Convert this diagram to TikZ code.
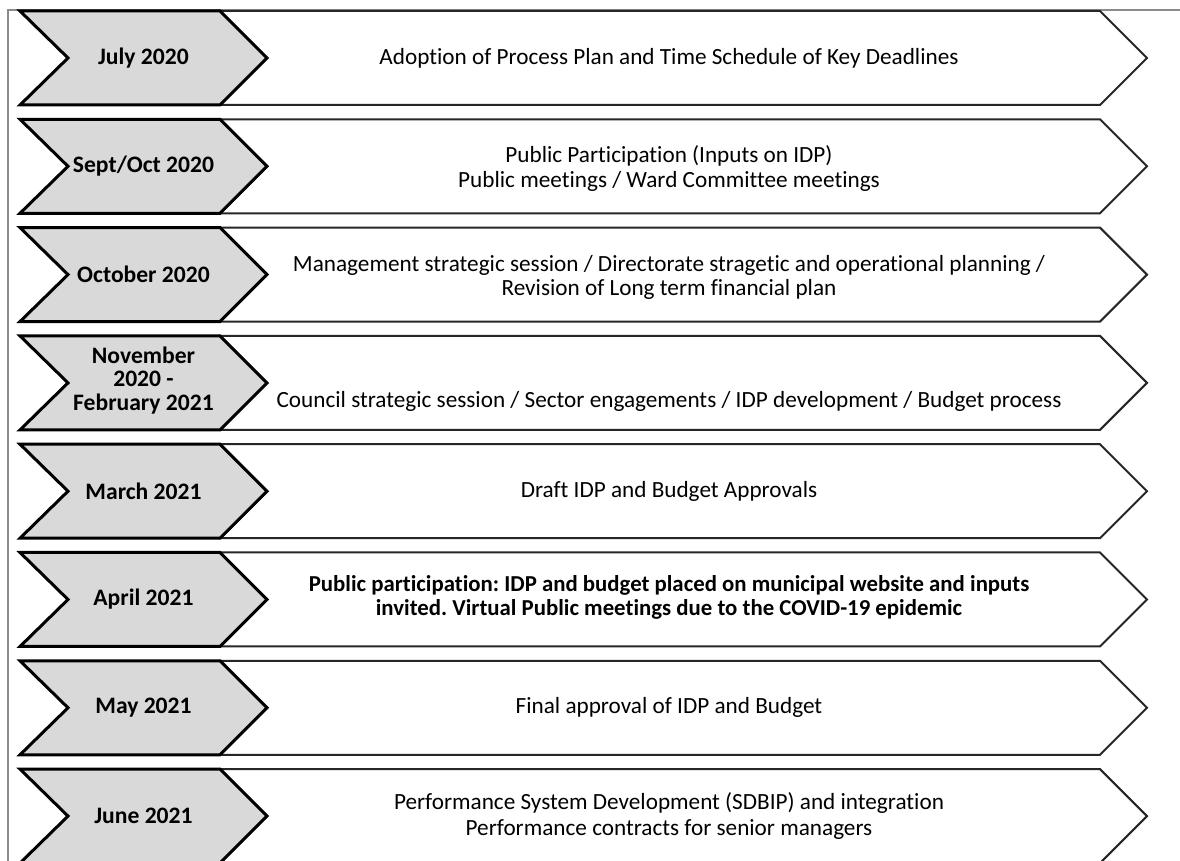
\documentclass[tikz,border=0pt]{standalone}
\usepackage{fontspec}
\setmainfont{Carlito}[Ligatures=NoCommon]
\usepackage{tikz}
\usetikzlibrary{positioning}
\definecolor{datefill}{HTML}{D9D9D9}
\definecolor{framegray}{HTML}{8C8C8C}
\frenchspacing

\begin{document}
\begin{tikzpicture}[x=0.5pt,y=-0.5pt,line join=miter,
  frame/.style={draw=framegray,line width=1pt},
  date box/.style={fill=datefill,draw=black,line width=1.5pt},
  task box/.style={fill=white,draw=black!85,line width=1pt},
  date/.style={font=\bfseries\fontsize{11.8}{11.75}\selectfont,align=center},
  task/.style={font=\fontsize{11.6}{11.8}\selectfont,align=center}]

  \useasboundingbox (0,0) rectangle (1180,861);
  \draw[frame] (8,861) -- (8,10) -- (1180,10);

  % chevrons, one row per period
  \foreach \t [count=\i] in {11,119.3,227.6,335.9,444.2,552.5,660.8,769.1} {
    \draw[task box] (220,\t) -- (1100,\t) -- (1147,\t+47) -- (1100,\t+94)
      -- (220,\t+94) -- (267,\t+47) -- cycle;
    \draw[date box] (20,\t) -- (220,\t) -- (267,\t+47) -- (220,\t+94)
      -- (20,\t+94) -- (68,\t+47) -- cycle;
    \coordinate (row\i) at (143.5,\t+47);
    \coordinate (mid\i) at (669,\t+47);
  }

  \node[date] (d1) at (row1) {July 2020};
  \node[date] (d2) at (row2) {Sept/Oct 2020};
  \node[date] (d3) at (row3) {October 2020};
  \node[date] (d4) at ([yshift=1.25pt]row4) {November\\2020 -\\February 2021};
  \node[date] (d5) at (row5) {March 2021};
  \node[date] (d6) at (row6) {April 2021};
  \node[date] (d7) at (row7) {May 2021};
  \node[date] (d8) at (row8) {June 2021};

  \node[task] (t1) at (mid1) {Adoption of Process Plan and Time Schedule of Key Deadlines};
  \node[task] (t2) at ([yshift=-1pt]mid2) {Public Participation (Inputs on IDP)\\[0.8pt]
    Public meetings / Ward Committee meetings};
  \node[task] (t3) at ([yshift=-1.5pt]mid3) {Management strategic session / Directorate stragetic and operational planning /\\
    Revision of Long term financial plan};
  \node[task] (t4) at ([yshift=-9.5pt]mid4) {Council strategic session / Sector engagements / IDP development / Budget process};
  \node[task] (t5) at (mid5) {Draft IDP and Budget Approvals};
  \node[task, font=\bfseries\fontsize{11.4}{11.8}\selectfont] (t6) at ([yshift=1pt]mid6)
    {Public participation: IDP and budget placed on municipal website and inputs\\
    invited. Virtual Public meetings due to the COVID-19 epidemic};
  \node[task] (t7) at (mid7) {Final approval of IDP and Budget};
  \node[task] (t8) at (mid8) {Performance System Development (SDBIP) and integration\\[0.8pt]
    Performance contracts for senior managers};
\end{tikzpicture}
\end{document}
